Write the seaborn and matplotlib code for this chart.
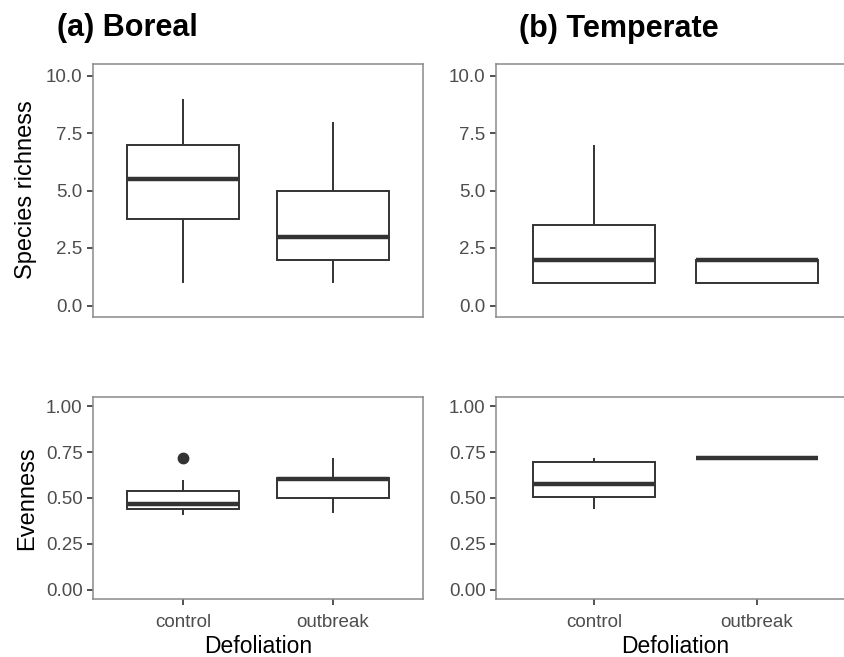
import pandas as pd
import matplotlib
matplotlib.use('Agg')
import matplotlib.pyplot as plt
from matplotlib.ticker import FormatStrFormatter
import seaborn as sns

# data
groups = ['control', 'outbreak']

boreal_rich_control = [1, 3, 4, 5, 6, 7, 7, 9]
boreal_rich_outbreak = [1, 2, 2, 3, 3, 4, 5, 6, 8]
temperate_rich_control = [1, 1, 1, 2, 3, 4, 7]
temperate_rich_outbreak = [1, 1, 2, 2, 2]

boreal_even_control = [0.41, 0.43, 0.44, 0.45, 0.465, 0.50, 0.54, 0.60, 0.72]
boreal_even_outbreak = [0.42, 0.48, 0.50, 0.55, 0.605, 0.61, 0.61, 0.65, 0.72]
temperate_even_control = [0.44, 0.505, 0.575, 0.695, 0.72]
temperate_even_outbreak = [0.72, 0.72, 0.72]

titles = ['(a) Boreal', '(b) Temperate']
ylabels = ['Species richness', 'Evenness']

rows = []
def add(forest, metric, group, values):
    for v in values:
        rows.append({'forest': forest, 'metric': metric, 'Defoliation': group, 'value': v})

add('Boreal', 'richness', 'control', boreal_rich_control)
add('Boreal', 'richness', 'outbreak', boreal_rich_outbreak)
add('Temperate', 'richness', 'control', temperate_rich_control)
add('Temperate', 'richness', 'outbreak', temperate_rich_outbreak)
add('Boreal', 'evenness', 'control', boreal_even_control)
add('Boreal', 'evenness', 'outbreak', boreal_even_outbreak)
add('Temperate', 'evenness', 'control', temperate_even_control)
add('Temperate', 'evenness', 'outbreak', temperate_even_outbreak)
df = pd.DataFrame(rows)

# style
sns.set_theme(style='white')
plt.rcParams['font.family'] = ['Liberation Sans', 'DejaVu Sans']

W, H = 844, 657
fig = plt.figure(figsize=(W / 100, H / 100), dpi=100)

def px_axes(left, top, width, height):
    return fig.add_axes([left / W, 1 - (top + height) / H, width / W, height / H])

# panel boxes in pixels (right column runs past the image edge, as in the original)
panels = {
    ('Boreal', 'richness'): px_axes(93, 64, 330, 253),
    ('Temperate', 'richness'): px_axes(496, 64, 359, 253),
    ('Boreal', 'evenness'): px_axes(93, 397, 330, 202),
    ('Temperate', 'evenness'): px_axes(496, 397, 359, 202),
}

line_col = '#333333'
for (forest, metric), ax in panels.items():
    sub = df[(df['forest'] == forest) & (df['metric'] == metric)]
    sns.boxplot(data=sub, x='Defoliation', y='value', order=groups, ax=ax,
                color='white', linecolor=line_col, linewidth=1.4, width=0.75,
                showcaps=False,
                medianprops={'linewidth': 3.2, 'color': line_col},
                flierprops={'marker': 'o', 'markersize': 7.5,
                            'markerfacecolor': line_col, 'markeredgecolor': line_col})
    ax.set_xlim(-0.6, 1.6)
    if metric == 'richness':
        ax.set_ylim(-0.5, 10.5)
        ax.set_yticks([0, 2.5, 5, 7.5, 10])
        ax.yaxis.set_major_formatter(FormatStrFormatter('%.1f'))
        ax.tick_params(axis='x', bottom=False, labelbottom=False)
        ax.set_xlabel('')
    else:
        ax.set_ylim(-0.05, 1.05)
        ax.set_yticks([0, 0.25, 0.5, 0.75, 1.0])
        ax.yaxis.set_major_formatter(FormatStrFormatter('%.2f'))
        ax.tick_params(axis='x', bottom=True, length=4.5, width=1.2, color=line_col,
                       labelsize=13.5, labelcolor='#4D4D4D', pad=6)
        ax.set_xlabel('Defoliation', fontsize=16.5, color='black', labelpad=3)
    ax.tick_params(axis='y', left=True, length=4.5, width=1.2, color=line_col,
                   labelsize=13.5, labelcolor='#4D4D4D', pad=3)
    ax.set_ylabel('')
    for sp in ax.spines.values():
        sp.set_color('#8a8a8a')
        sp.set_linewidth(1.1)

fig.text(26 / W, 1 - 190 / H, ylabels[0], rotation=90, ha='center', va='center',
         fontsize=17, color='black')
fig.text(27 / W, 1 - 498 / H, ylabels[1], rotation=90, ha='center', va='center',
         fontsize=17, color='black')

fig.text(57 / W, 1 - 36 / H, titles[0], fontsize=22, fontweight='bold', va='baseline', color='black')
fig.text(519 / W, 1 - 37 / H, titles[1], fontsize=22, fontweight='bold', va='baseline', color='black')

fig.savefig('out.png', dpi=100)
